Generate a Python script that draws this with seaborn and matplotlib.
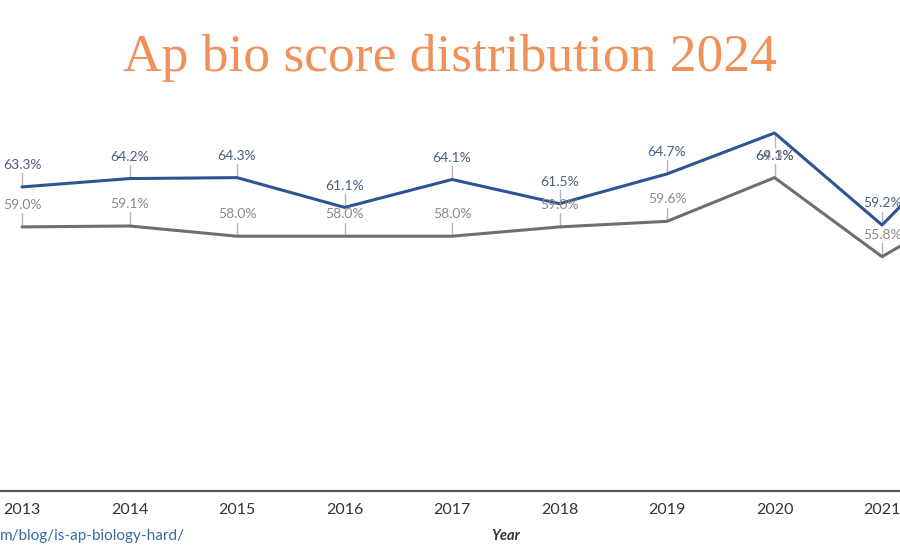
import pandas as pd
import seaborn as sns
import matplotlib.pyplot as plt

# dados
anos = [2013, 2014, 2015, 2016, 2017, 2018, 2019, 2020, 2021, 2022]
biologia = [63.3, 64.2, 64.3, 61.1, 64.1, 61.5, 64.7, 69.1, 59.2, 71.0]
todos = [59.0, 59.1, 58.0, 58.0, 58.0, 59.0, 59.6, 64.3, 55.8, 62.5]
rotulos_ano = ["2013", "2014", "2015", "2016", "2017", "2018", "2019", "2020", "2021"]

df = pd.DataFrame({
    "ano": anos * 2,
    "taxa": biologia + todos,
    "serie": ["bio"] * len(anos) + ["todos"] * len(anos),
})

sns.set_theme(style="white")
plt.rcParams["font.family"] = ["Lato", "DejaVu Sans"]

fig = plt.figure(figsize=(9, 5.5), dpi=100)
ax = fig.add_axes([0, 0.1073, 1, 0.7109])

cores = {"bio": "#2e5493", "todos": "#6e6e6e"}
sns.lineplot(data=df, x="ano", y="taxa", hue="serie", palette=cores,
             linewidth=2.2, legend=False, ax=ax)

ax.set_xlim(2012.795, 2021.167)
ax.set_ylim(30.6, 72.65)

# rótulos de dados com linha guia
desloc = 2.35
for i, ano in enumerate(anos[:-1]):
    vb, vt = biologia[i], todos[i]
    yt = vt + desloc
    # em 2020 os dois rótulos ficam sobrepostos acima da linha cinza
    yb = yt if ano == 2020 else vb + desloc
    ax.plot([ano, ano], [vt, yt - 0.9], color="#b5b5b5", lw=1, zorder=1)
    if yb < vb:
        ax.plot([ano, ano], [yb + 0.9, vb], color="#b5b5b5", lw=1, zorder=1)
    else:
        ax.plot([ano, ano], [vb, yb - 0.9], color="#b5b5b5", lw=1, zorder=1)
    ax.text(ano, yt, f"{vt:.1f}%", ha="center", va="center", fontsize=10,
            color="#8a8a8a", zorder=3)
    ax.text(ano, yb, f"{vb:.1f}%", ha="center", va="center", fontsize=10,
            color="#4a6180", zorder=3)

ax.set_xticks(anos[:-1])
ax.set_xticklabels(rotulos_ano, fontsize=11.5, color="#333333")
ax.tick_params(axis="x", length=0, pad=9)
ax.set_yticks([])
ax.set_xlabel("")
ax.set_ylabel("")
for lado in ["top", "left", "right"]:
    ax.spines[lado].set_visible(False)
ax.spines["bottom"].set_color("#555555")
ax.spines["bottom"].set_linewidth(1.6)

fig.text(0.5, 1 - 58 / 550, "Ap bio score distribution 2024", ha="center",
         va="center", fontsize=38.5, color="#f0915a", family="Liberation Serif")
fig.text(506 / 900, 1 - 536 / 550, "Year", ha="center", va="center",
         fontsize=10.5, style="italic", weight="bold", color="#333333")
fig.text(0.0, 1 - 536 / 550, "m/blog/is-ap-biology-hard/", ha="left",
         va="center", fontsize=11, color="#3a68a8")

plt.savefig("out.png", dpi=100)
